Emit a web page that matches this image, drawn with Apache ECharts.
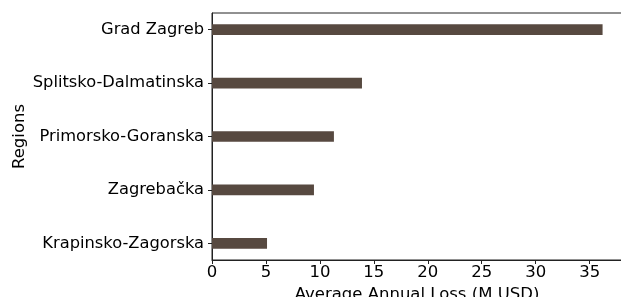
<!DOCTYPE html>
<html>
<head>
    <meta charset="UTF-8">
    <title>Average Annual Loss by Region</title>
    <script src="https://cdn.jsdelivr.net/npm/echarts@6/dist/echarts.min.js"></script>
    <style>
        html, body { margin: 0; padding: 0; background: #fff; }
    </style>
</head>
<body>
<div id="chart" style="width: 621px;height:297px;"></div>
<script type="text/javascript">
    // data
    var regions = ['Grad Zagreb', 'Splitsko-Dalmatinska', 'Primorsko-Goranska', 'Zagrebačka', 'Krapinsko-Zagorska'];
    var losses = [36.2, 13.9, 11.3, 9.45, 5.1];
    var xTicks = [0, 5, 10, 15, 20, 25, 30, 35];
    var yTicks = [0, 1, 2, 3, 4];

    var chart = echarts.init(document.getElementById('chart'));
    var font = 'DejaVu Sans';
    var barHeight = 0.2; // in category units, like matplotlib barh height

    var barData = losses.map(function (v, i) { return [v, i]; });

    // horizontal bar drawn through the axes' own scales
    function renderBar(params, api) {
        var end = api.coord([api.value(0), api.value(1)]);
        var start = api.coord([0, api.value(1)]);
        var h = api.size([0, barHeight])[1];
        return {
            type: 'rect',
            shape: { x: start[0], y: start[1] - h / 2, width: end[0] - start[0], height: h },
            style: { fill: '#574940' }
        };
    }

    var option = {
        animation: false,
        grid: {
            left: 212, right: -1, top: 13, bottom: 37,
            outerBoundsMode: 'none',
            containLabel: false,
            show: true, borderColor: '#222', borderWidth: 1
        },
        xAxis: {
            type: 'value',
            min: 0, max: 38,
            name: 'Average Annual Loss (M USD)',
            nameLocation: 'middle',
            nameGap: 19,
            nameTextStyle: { fontFamily: font, fontSize: 16.5, color: '#000' },
            axisLine: { show: true, onZero: false, lineStyle: { color: '#222' } },
            axisTick: { show: true, length: 4, lineStyle: { color: '#222' }, customValues: xTicks },
            axisLabel: { margin: 4, fontFamily: font, fontSize: 16.5, color: '#000', customValues: xTicks },
            splitLine: { show: false }
        },
        yAxis: {
            type: 'value',
            inverse: true,
            min: -0.31, max: 4.31,
            name: 'Regions',
            nameLocation: 'middle',
            nameGap: 184,
            nameMoveOverlap: false,
            nameTextStyle: { fontFamily: font, fontSize: 16.5, color: '#000' },
            axisLine: { show: true, onZero: false, lineStyle: { color: '#222' } },
            axisTick: { show: true, length: 4, lineStyle: { color: '#222' }, customValues: yTicks },
            axisLabel: {
                margin: 8, fontFamily: font, fontSize: 16.3, color: '#000',
                customValues: yTicks,
                formatter: function (v) { return regions[Math.round(v)]; }
            },
            splitLine: { show: false }
        },
        series: [
            {
                type: 'custom',
                renderItem: renderBar,
                data: barData,
                encode: { x: 0, y: 1 }
            }
        ]
    };

    chart.setOption(option);
</script>
</body>
</html>
